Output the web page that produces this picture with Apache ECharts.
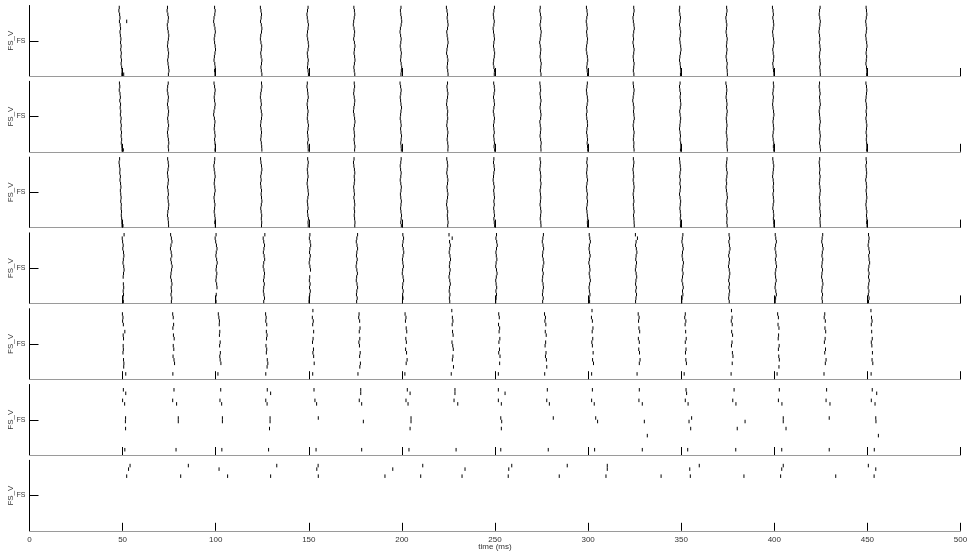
<!DOCTYPE html>
<html><head><meta charset="utf-8">
<script src="https://cdn.jsdelivr.net/npm/echarts@6/dist/echarts.min.js"></script>
<style>html,body{margin:0;padding:0;background:#fff}#c{width:971px;height:559px}</style>
</head><body><div id="c"></div>
<script>
// ---------- data ----------
const nRows = 20;                       // neurons per panel (row 20 = top)
const xTickStep = 50;
const yTickLabels = ['FS'];
const yAxisName = 'FS_V';
const xAxisName = 'time (ms)';
const burstTimes = [50,75,100,125,150,175,200,225,250,275,300,325,350,375,400,425,450];

// spike lags after each burst, in tenths of ms, listed from top row (20) to bottom row (1); null = no spike
const p1Lag = [
[-18,-20,-16,-14,-17,-13,-11,-14,-12,-9,-11,-8,-10,-7,-9,-6,-8,-5,-3,-4],
[-9,-11,-7,-4,-6,-10,-8,-5,-2,-4,-7,-9,-6,-3,-5,-8,-6,-3,-1,-4],
[-6,-3,-5,-9,-11,-8,-4,-2,-5,-8,-6,-3,-1,-4,-7,-9,-5,-3,-6,-4],
[-10,-7,-4,-6,-9,-5,-2,-4,-8,-10,-7,-3,-5,-8,-6,-2,-4,-7,-5,-2],
[-4,-7,-10,-8,-5,-2,-4,-7,-9,-6,-3,-1,-4,-8,-6,-3,-5,-7,-4,-2],
[-8,-5,-3,-6,-9,-11,-7,-4,-6,-9,-5,-2,-5,-7,-4,-2,-5,-8,-6,-3],
[-5,-8,-6,-3,-1,-4,-8,-10,-7,-4,-6,-9,-6,-3,-5,-7,-4,-1,-3,-5],
[-11,-8,-5,-7,-4,-2,-5,-9,-7,-4,-2,-5,-8,-10,-6,-3,-5,-7,-4,-2],
[-3,-6,-9,-7,-4,-6,-10,-8,-5,-3,-6,-8,-5,-2,-4,-7,-9,-6,-3,-4],
[-7,-9,-6,-3,-5,-8,-5,-2,-4,-7,-10,-7,-4,-6,-8,-5,-2,-4,-6,-3],
[-9,-6,-4,-7,-10,-7,-5,-8,-6,-3,-5,-8,-10,-7,-4,-2,-5,-7,-5,-3],
[-5,-3,-6,-9,-7,-4,-2,-5,-8,-6,-9,-6,-3,-5,-8,-6,-3,-5,-7,-4],
[-8,-10,-7,-4,-6,-9,-6,-3,-5,-8,-6,-3,-1,-4,-7,-9,-6,-4,-2,-4],
[-6,-4,-7,-10,-8,-5,-7,-9,-6,-3,-5,-7,-4,-6,-9,-6,-3,-5,-3,-2],
[-10,-7,-5,-8,-5,-3,-6,-9,-7,-4,-2,-5,-8,-6,-3,-5,-8,-6,-4,-2],
[-4,-7,-9,-6,-3,-5,-8,-10,-7,-5,-8,-5,-3,-6,-8,-5,-3,-6,-4,-3],
[-7,-5,-3,-6,-9,-7,-4,-6,-9,-7,-4,-2,-5,-7,-4,-6,-8,-5,-3,-4]];
const p1Extra = [[52.2,16],[50.6,1]];

const p2Lag = [
[-17,-15,-18,-14,-12,-15,-11,-13,-10,-12,-8,-10,-7,-9,-6,-8,-5,-7,-4,-3],
[-5,-8,-10,-7,-4,-6,-9,-6,-3,-5,-8,-6,-3,-6,-9,-7,-4,-2,-5,-3],
[-9,-6,-3,-5,-8,-6,-3,-5,-9,-11,-7,-4,-6,-8,-5,-3,-6,-4,-2,-4],
[-4,-2,-5,-8,-10,-7,-5,-8,-5,-2,-4,-7,-9,-6,-4,-6,-8,-5,-3,-2],
[-8,-10,-7,-5,-3,-6,-9,-7,-4,-6,-8,-5,-2,-4,-7,-5,-3,-6,-4,-3],
[-6,-4,-7,-9,-6,-3,-5,-8,-10,-7,-4,-2,-5,-8,-6,-4,-7,-5,-2,-4],
[-10,-7,-4,-6,-9,-7,-5,-2,-5,-7,-9,-6,-4,-7,-5,-2,-4,-6,-4,-3],
[-5,-8,-6,-3,-5,-8,-10,-7,-4,-6,-4,-7,-9,-6,-3,-5,-7,-4,-2,-3],
[-7,-4,-2,-5,-8,-5,-3,-6,-9,-6,-3,-5,-8,-6,-4,-7,-5,-3,-5,-2],
[-9,-7,-5,-8,-6,-3,-6,-8,-5,-3,-5,-9,-7,-4,-6,-8,-5,-2,-4,-3],
[-4,-6,-9,-7,-4,-2,-5,-8,-6,-9,-7,-4,-3,-6,-8,-5,-3,-5,-3,-2],
[-8,-6,-3,-5,-8,-10,-7,-4,-6,-4,-2,-5,-8,-6,-3,-5,-7,-4,-5,-3],
[-6,-9,-7,-4,-6,-4,-2,-5,-8,-6,-3,-5,-7,-9,-6,-4,-6,-3,-2,-4],
[-10,-7,-5,-7,-9,-6,-4,-6,-3,-5,-8,-6,-4,-6,-8,-5,-3,-5,-4,-2],
[-5,-3,-6,-8,-5,-7,-9,-7,-4,-2,-5,-7,-5,-3,-6,-8,-6,-3,-5,-3],
[-7,-9,-6,-4,-7,-5,-3,-6,-9,-7,-5,-3,-6,-8,-5,-3,-5,-7,-4,-2],
[-8,-5,-3,-5,-7,-9,-6,-4,-7,-5,-8,-6,-3,-5,-7,-4,-6,-4,-3,-4]];
const p2Extra = [[50.4,1]];

const p3Lag = [
[-16,-19,-17,-14,-15,-12,-14,-11,-9,-12,-10,-8,-10,-7,-8,-6,-7,-5,-4,-3],
[-8,-5,-3,-6,-9,-7,-4,-6,-9,-6,-4,-7,-5,-2,-4,-7,-9,-6,-4,-3],
[-5,-7,-10,-8,-5,-3,-6,-8,-5,-3,-6,-9,-7,-4,-6,-8,-5,-3,-5,-2],
[-9,-7,-4,-2,-5,-8,-6,-9,-7,-4,-6,-4,-2,-5,-8,-6,-3,-5,-3,-4],
[-6,-3,-5,-8,-6,-4,-7,-9,-6,-4,-2,-5,-8,-6,-4,-7,-5,-2,-4,-3],
[-7,-10,-8,-5,-3,-6,-4,-6,-9,-7,-5,-8,-5,-3,-6,-4,-6,-4,-2,-3],
[-4,-6,-9,-7,-4,-6,-9,-6,-3,-5,-8,-6,-3,-5,-7,-5,-2,-4,-6,-3],
[-9,-6,-4,-7,-9,-6,-3,-5,-8,-6,-3,-5,-8,-10,-7,-4,-6,-4,-2,-4],
[-6,-8,-5,-3,-6,-8,-10,-7,-4,-7,-5,-3,-6,-4,-7,-5,-3,-6,-4,-2],
[-8,-5,-7,-9,-6,-4,-6,-3,-5,-8,-6,-4,-6,-8,-5,-3,-5,-7,-4,-3],
[-5,-7,-4,-6,-8,-6,-3,-6,-9,-7,-4,-6,-3,-5,-8,-6,-4,-2,-4,-3],
[-7,-4,-6,-9,-7,-5,-8,-5,-3,-5,-8,-6,-4,-7,-5,-3,-6,-4,-3,-2],
[-9,-7,-5,-3,-6,-8,-5,-7,-4,-6,-9,-6,-3,-5,-7,-5,-3,-5,-3,-4],
[-4,-6,-8,-6,-3,-5,-8,-6,-9,-7,-4,-2,-5,-8,-5,-3,-6,-4,-5,-3],
[-8,-6,-3,-5,-7,-9,-6,-4,-6,-4,-7,-5,-3,-6,-8,-5,-3,-5,-3,-2],
[-6,-9,-7,-5,-7,-4,-6,-8,-5,-3,-5,-8,-6,-4,-6,-4,-2,-5,-4,-3],
[-7,-5,-8,-6,-4,-6,-9,-6,-4,-7,-5,-3,-6,-8,-6,-3,-5,-3,-4,-2]];
const p3Extra = [[50.2,1]];

const p4Lag = [
[8,-2,0,3,1,5,7,4,2,6,8,5,3,null,4,6,3,5,2,4],
[8,12,15,10,7,11,14,9,12,16,13,10,8,12,15,11,13,10,14,12],
[2,-3,0,4,7,3,1,5,8,4,2,6,3,1,5,7,null,3,0,2],
[14,5,8,12,9,6,10,13,8,5,9,12,10,7,11,8,6,9,12,8],
[6,3,7,10,6,4,8,5,2,6,9,null,5,3,7,4,8,5,2,1],
[12,8,5,9,12,8,6,10,7,4,8,11,7,5,9,12,8,6,10,7],
[5,9,6,3,7,10,6,3,5,8,4,2,6,9,5,3,7,4,6,3],
[3,20,6,10,7,4,8,11,7,5,9,6,3,7,10,6,4,8,5,7],
[8,5,9,12,8,5,7,10,6,4,8,11,7,4,6,9,5,8,6,4],
[10,7,4,8,11,7,5,9,12,8,5,9,6,4,8,10,7,5,9,6],
[6,9,12,7,5,8,11,7,4,8,10,6,9,12,8,5,7,10,6,8],
[4,15,8,5,9,12,8,6,10,7,4,8,11,7,5,9,6,10,7,5],
[9,6,4,8,11,7,5,8,12,9,6,10,7,4,8,11,7,9,5,3],
[7,10,6,9,12,8,5,9,7,4,8,11,8,5,9,6,10,7,5,8],
[5,8,11,7,4,8,10,6,9,12,8,5,7,10,6,4,8,11,7,5],
[10,7,5,9,12,8,6,10,7,5,9,6,4,8,11,7,5,9,6,8],
[6,9,7,4,8,11,7,9,12,8,5,9,6,10,7,4,8,5,9,6]];
const p4Extra = [];

const p5Lag = [
[null,-1,2,0,4,null,12,3,5,null,3,4,2,null,5,7,6,null,17,null],
[null,19,22,null,24,20,null,23,27,null,22,25,null,21,26,29,null,null,20,null],
[null,14,17,20,19,null,22,20,null,24,21,null,25,22,24,28,null,null,12,null],
[null,18,21,19,24,null,22,26,23,null,20,24,22,null,27,30,26,null,19,null],
[22,null,19,24,21,null,26,null,23,20,null,25,22,26,null,29,null,null,21,null],
[null,20,18,23,null,25,21,null,24,19,22,null,26,23,null,27,24,null,14,null],
[null,17,22,19,null,23,26,null,21,24,null,20,25,null,28,23,null,null,16,null],
[18,null,21,24,20,null,22,25,null,19,23,26,null,24,21,null,27,null,15,null],
[null,20,23,null,19,25,22,null,26,21,null,24,20,27,null,25,null,null,18,null],
[null,16,21,18,23,null,20,25,null,22,19,null,24,21,26,null,28,null,17,null],
[21,null,18,23,null,26,22,null,25,20,23,null,27,null,24,29,null,null,19,null],
[null,19,24,21,null,23,27,null,20,25,null,22,26,null,29,25,null,null,13,null],
[null,22,19,25,21,null,24,null,27,22,null,26,23,null,25,28,null,null,16,null],
[20,null,23,19,24,null,21,26,null,23,20,null,25,28,null,24,null,null,18,null],
[null,18,22,null,20,25,null,23,21,null,26,22,null,24,27,null,25,null,15,null],
[null,21,18,24,null,22,26,null,23,19,null,25,21,null,28,24,null,null,17,null],
[19,null,22,25,21,null,23,null,26,21,24,null,27,null,25,29,null,null,20,null]];
const p5Extra = [];

// sparse panels: [time (ms), row]
const p6Spikes = [
[50.4,19],[51.7,18],[50.0,16],[51.1,15],[51.6,11],[51.5,10],[51.6,8],[51.2,2],
[77.6,19],[76.9,16],[79.0,15],[79.9,11],[79.9,10],[78.7,2],
[102.7,19],[102.3,16],[103.2,15],[103.6,11],[103.6,10],[103.3,2],
[127.7,19],[129.5,18],[126.9,16],[127.6,15],[129.2,11],[129.2,10],[128.9,8],[128.4,2],
[152.8,19],[153.3,16],[154.2,15],[155.1,11],[153.9,2],
[177.9,19],[177.9,18],[177.1,16],[178.4,15],[179.3,10],[178.4,2],
[202.9,19],[204.4,18],[202.2,16],[203.3,15],[204.9,11],[204.9,10],[204.4,8],[203.8,2],
[228.5,19],[228.5,18],[228.0,16],[230.0,15],[229.1,2],
[251.8,19],[255.4,18],[251.8,16],[253.4,15],[253.1,11],[253.6,10],[253.4,8],[253.1,2],
[278.1,19],[277.8,16],[279.2,15],[281.3,11],[278.6,2],
[302.3,19],[301.9,16],[303.3,15],[304.1,11],[305.1,10],[303.5,2],
[327.5,19],[327.3,16],[329.1,15],[330.2,10],[331.8,6],[329.1,2],
[352.6,19],[352.9,18],[352.2,16],[353.7,15],[355.6,11],[354.2,10],[355.1,8],[353.5,2],
[378.4,19],[377.7,16],[379.4,15],[384.3,10],[380.1,8],[379.3,2],
[402.7,19],[402.2,16],[404.1,15],[404.8,11],[404.8,10],[406.3,8],[404.0,2],
[428.1,19],[427.8,16],[429.9,15],[429.5,11],[429.5,2],
[452.6,19],[455.0,18],[452.1,16],[454.1,15],[454.5,11],[454.6,10],[455.9,6],[453.7,2]];

const p7Spikes = [
[54.0,19],[53.2,18],[52.2,16],
[85.3,19],[81.2,16],
[101.8,18],[106.4,16],
[132.8,19],[129.5,16],
[155.0,19],[154.3,18],[155.1,16],
[195.1,18],[190.9,16],
[211.2,19],[210.1,16],
[233.9,18],[232.3,16],
[259.0,19],[257.4,18],[257.1,16],
[288.8,19],[284.5,16],
[310.3,19],[310.3,18],[309.6,16],
[339.2,16],
[359.7,19],[354.6,18],[354.9,16],
[383.7,16],
[404.8,19],[404.0,18],[403.4,16],
[433.0,16],
[450.5,19],[454.5,18],[453.6,16]];

// ---------- build ----------
function fromLags(lags, extra) {
  const out = [];
  lags.forEach((row, b) => row.forEach((lag, i) => {
    if (lag !== null) out.push([burstTimes[b] + lag / 10, nRows - i]);
  }));
  return out.concat(extra);
}
const panels = [
  fromLags(p1Lag, p1Extra), fromLags(p2Lag, p2Extra), fromLags(p3Lag, p3Extra),
  fromLags(p4Lag, p4Extra), fromLags(p5Lag, p5Extra), p6Spikes, p7Spikes
];

const font = "'Liberation Sans', Arial, Helvetica, sans-serif";
function renderItem(params, api) {
  const t = api.value(0), r = api.value(1);
  const a = api.coord([t, r - 0.5]);
  const b = api.coord([t, r + 0.5]);
  return { type: 'line', shape: { x1: a[0], y1: a[1], x2: b[0], y2: b[1] },
           style: { stroke: '#000', lineWidth: 1 } };
}
const grids = [], xAxes = [], yAxes = [], series = [];
panels.forEach((spikes, i) => {
  const last = i === panels.length - 1;
  grids.push({ left: 29.5, right: 10.5, top: 5.5 + i * 75.8, height: 70.5,
               containLabel: false, outerBoundsMode: 'none' });
  xAxes.push({
    gridIndex: i, type: 'value', min: 0, max: 500, interval: xTickStep,
    axisLine: { show: true, onZero: false, lineStyle: { color: '#9a9a9a', width: 1 } },
    axisTick: { show: true, inside: true, length: 8, lineStyle: { color: '#000', width: 1 } },
    axisLabel: { show: last, fontSize: 8, color: '#333', margin: 5, fontFamily: font },
    splitLine: { show: false },
    name: last ? xAxisName : '', nameLocation: 'middle', nameGap: 12, nameMoveOverlap: false,
    nameTextStyle: { fontSize: 8, color: '#333', fontFamily: font }
  });
  yAxes.push({
    gridIndex: i, type: 'value', min: 0.5, max: nRows + 0.5,
    axisLine: { show: true, onZero: false, lineStyle: { color: '#000', width: 1 } },
    axisTick: { show: true, inside: true, length: 9, customValues: [(nRows + 1) / 2], lineStyle: { color: '#000' } },
    axisLabel: { show: true, customValues: [(nRows + 1) / 2], formatter: () => yTickLabels[0],
                 fontSize: 7, color: '#333', margin: 4, fontFamily: font },
    splitLine: { show: false },
    name: yAxisName, nameLocation: 'middle', nameGap: 15, nameMoveOverlap: false,
    nameTextStyle: { fontSize: 8, color: '#333', fontFamily: font }
  });
  series.push({ type: 'custom', xAxisIndex: i, yAxisIndex: i, data: spikes,
                renderItem, clip: true, silent: true, animation: false });
});

const chart = echarts.init(document.getElementById('c'));
chart.setOption({ animation: false, backgroundColor: '#fff',
  grid: grids, xAxis: xAxes, yAxis: yAxes, series });
</script></body></html>
